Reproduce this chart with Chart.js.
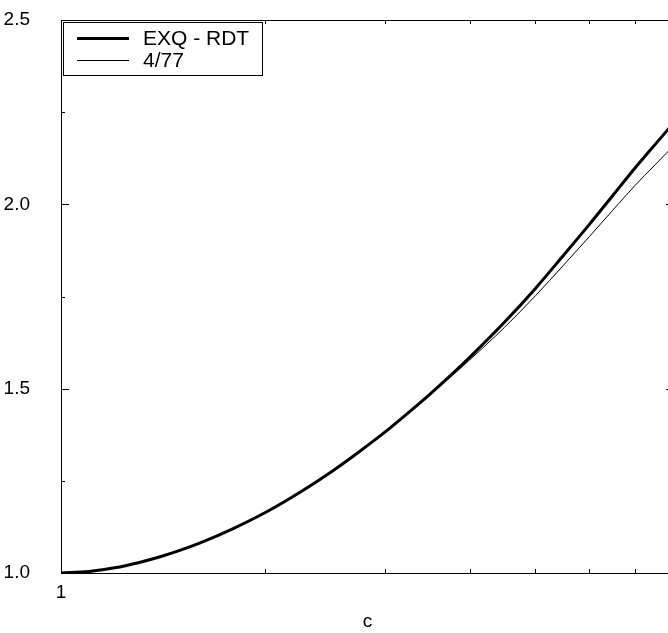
<!DOCTYPE html>
<html><head><meta charset="utf-8">
<style>html,body{margin:0;padding:0;background:#fff;overflow:hidden}#wrap{width:680px;height:633px;position:relative}</style>
<script src="https://cdn.jsdelivr.net/npm/chart.js@4.4.1/dist/chart.umd.min.js"></script>
</head><body><div id="wrap"><canvas id="c" width="680" height="633"></canvas></div>
<script>
const cValues = [1, 1.1, 1.2, 1.3, 1.4, 1.5, 1.6, 1.8, 2, 2.25, 2.5, 2.75, 3, 3.25, 3.5, 3.75, 4, 4.5, 5, 5.5, 6, 6.5, 7, 7.5, 8];
const exqRdt  = [1.000, 1.004, 1.014, 1.028, 1.044, 1.062, 1.081, 1.122, 1.164, 1.219, 1.274, 1.329, 1.382, 1.435, 1.486, 1.536, 1.585, 1.680, 1.772, 1.862, 1.945, 2.024, 2.097, 2.162, 2.222];
const ref477  = [1.000, 1.004, 1.014, 1.028, 1.044, 1.062, 1.081, 1.122, 1.164, 1.219, 1.274, 1.329, 1.382, 1.434, 1.484, 1.532, 1.578, 1.666, 1.752, 1.835, 1.912, 1.984, 2.050, 2.107, 2.160];
const seriesLabels = ['EXQ - RDT', '4/77'];
const xTickValues = [1, 2, 3, 4, 5, 6, 7, 8];
const xTickLabels = ['1', '', '', '', '', '', '', ''];
const yTickValues = [1, 1.25, 1.5, 1.75, 2, 2.25, 2.5];
const yTickLabels = ['1.0', '', '1.5', '', '2.0', '', '2.5'];
const xTitle = 'c';

const FONT = 'Liberation Sans, Arial, sans-serif';

const frameTicks = {
  id: 'frameTicks',
  afterDatasetsDraw(chart) {
    const {ctx, chartArea: a, scales: {x, y}} = chart;
    ctx.save();
    ctx.strokeStyle = '#000';
    ctx.lineWidth = 1;
    const seg = (x1, y1, x2, y2) => { ctx.beginPath(); ctx.moveTo(x1, y1); ctx.lineTo(x2, y2); ctx.stroke(); };
    y.ticks.forEach((t, i) => {
      const py = Math.round(y.getPixelForValue(t.value)) + 0.5;
      const len = yTickLabels[i] ? 8 : 4;
      seg(a.left, py, a.left + len, py);
      seg(a.right, py, a.right - len, py);
    });
    x.ticks.forEach((t, i) => {
      if (i === 0 || i === x.ticks.length - 1) return;
      const px = Math.round(x.getPixelForValue(t.value)) + 0.5;
      seg(px, a.bottom, px, a.bottom - 4);
      seg(px, a.top, px, a.top + 4);
    });
    ctx.strokeRect(Math.round(a.left) + 0.5, Math.round(a.top) + 0.5, Math.round(a.right - a.left), Math.round(a.bottom - a.top));
    // legend box
    const bx = 63.5, by = 22.5, bw = 199, bh = 53;
    ctx.fillStyle = '#fff';
    ctx.fillRect(bx, by, bw, bh);
    ctx.strokeRect(bx, by, bw, bh);
    const rows = [38, 60];
    chart.data.datasets.forEach((ds, i) => {
      ctx.lineWidth = ds.borderWidth;
      ctx.strokeStyle = ds.borderColor;
      seg(77, rows[i] + 0.5, 129, rows[i] + 0.5);
      ctx.fillStyle = '#000';
      ctx.font = '21px ' + FONT;
      ctx.textBaseline = 'middle';
      ctx.textAlign = 'left';
      ctx.fillText(ds.label, 143, rows[i] + 1);
    });
    ctx.restore();
  }
};

new Chart(document.getElementById('c'), {
  type: 'line',
  data: {
    datasets: [
      { label: seriesLabels[0], data: cValues.map((c, i) => ({x: c, y: exqRdt[i]})), borderColor: '#000', borderWidth: 3, pointRadius: 0, cubicInterpolationMode: 'monotone', fill: false },
      { label: seriesLabels[1], data: cValues.map((c, i) => ({x: c, y: ref477[i]})), borderColor: '#000', borderWidth: 1, pointRadius: 0, cubicInterpolationMode: 'monotone', fill: false }
    ]
  },
  options: {
    responsive: false,
    animation: false,
    layout: { padding: { top: 20, right: 6, left: 0, bottom: 0 } },
    plugins: { legend: { display: false }, tooltip: { enabled: false } },
    scales: {
      x: {
        type: 'logarithmic', min: 1, max: 8,
        afterBuildTicks: s => { s.ticks = xTickValues.map(v => ({value: v})); },
        afterFit: s => { s.height = 60; s.paddingLeft = 0; s.paddingRight = 0; },
        grid: { display: false, drawTicks: false },
        border: { display: false },
        ticks: { autoSkip: false, maxRotation: 0, padding: 8, color: '#000', font: { family: FONT, size: 19 },
          callback: (v, i) => xTickLabels[i] },
        title: { display: true, text: xTitle, color: '#000', font: { family: FONT, size: 19 }, padding: { top: 0, bottom: 0 } }
      },
      y: {
        type: 'linear', min: 1, max: 2.5,
        afterBuildTicks: s => { s.ticks = yTickValues.map(v => ({value: v})); },
        afterFit: s => { s.width = 61; s.paddingTop = 0; s.paddingBottom = 0; },
        grid: { display: false, drawTicks: false },
        border: { display: false },
        ticks: { autoSkip: false, padding: 31, color: '#000', font: { family: FONT, size: 19 },
          callback: (v, i) => yTickLabels[i] }
      }
    }
  },
  plugins: [frameTicks]
});
</script>
</body></html>
